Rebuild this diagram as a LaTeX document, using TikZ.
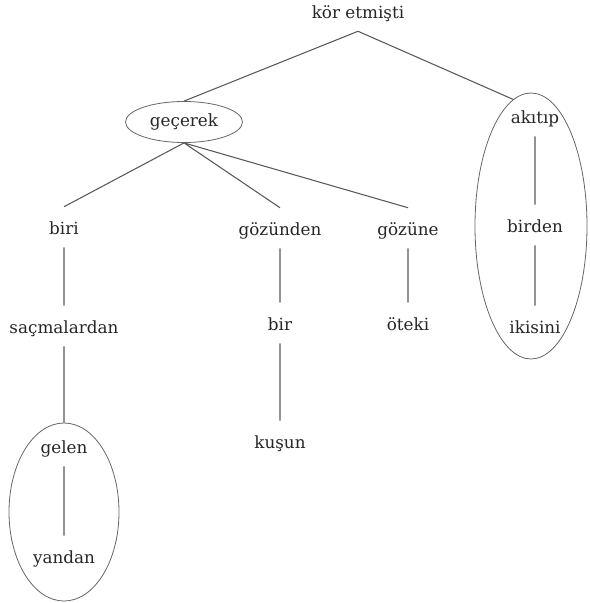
\documentclass[tikz,border=0pt]{standalone}
\usepackage{fontspec}
\setmainfont{DejaVu Serif}
\usetikzlibrary{shapes.geometric}
\begin{document}
\begin{tikzpicture}[x=0.75pt,y=-0.75pt,
  word/.style={anchor=base,text height=13.5pt,text depth=3pt,inner ysep=6.75pt,inner xsep=2pt,
    font=\fontsize{12.6}{15}\selectfont,text=black!85},
  oval/.style={draw=black!60,ellipse,line width=0.6pt,inner sep=0pt},
  edge/.style={draw=black!65,line width=0.8pt}]
\useasboundingbox (0,0) rectangle (589,603);
% words
\node[word] (root) at (358,18) {kör etmişti};
\node[oval,font=\fontsize{12.6}{15}\selectfont,text=black!85,
      minimum width=87.75pt,minimum height=30.75pt] (gecerek) at (184,122) {geçerek};
\node[word] (biri) at (64,234) {biri};
\node[word] (sacmalardan) at (64,333) {saçmalardan};
\node[word] (gelen) at (64,453) {gelen};
\node[word] (yandan) at (64,563) {yandan};
\node[word] (gozunden) at (280,235) {gözünden};
\node[word] (bir) at (280,330) {bir};
\node[word] (kusun) at (280,448) {kuşun};
\node[word] (gozune) at (408,235) {gözüne};
\node[word] (oteki) at (408,330) {öteki};
\node[word] (akitip) at (535,123) {akıtıp};
\node[word] (birden) at (535,232) {birden};
\node[word] (ikisini) at (535,333) {ikisini};
% groups
\node[oval,minimum width=84pt,minimum height=199.5pt] (akitipgrp) at (531,226) {};
\node[oval,minimum width=82.5pt,minimum height=133.5pt] (gelengrp) at (64,512) {};
% branches
\path[edge] (root.south) -- (gecerek.north)
  (root.south) -- (akitipgrp.98)
  (gecerek.south) -- (biri.north)
  (gecerek.south) -- (gozunden.north)
  (gecerek.south) -- (gozune.north)
  (biri.south) -- (sacmalardan.north)
  (sacmalardan.south) -- (gelengrp.north)
  (gelen.south) -- (yandan.north)
  (gozunden.south) -- (bir.north)
  (bir.south) -- (kusun.north)
  (gozune.south) -- (oteki.north)
  (akitip.south) -- (birden.north)
  (birden.south) -- (ikisini.north);
\end{tikzpicture}
\end{document}
